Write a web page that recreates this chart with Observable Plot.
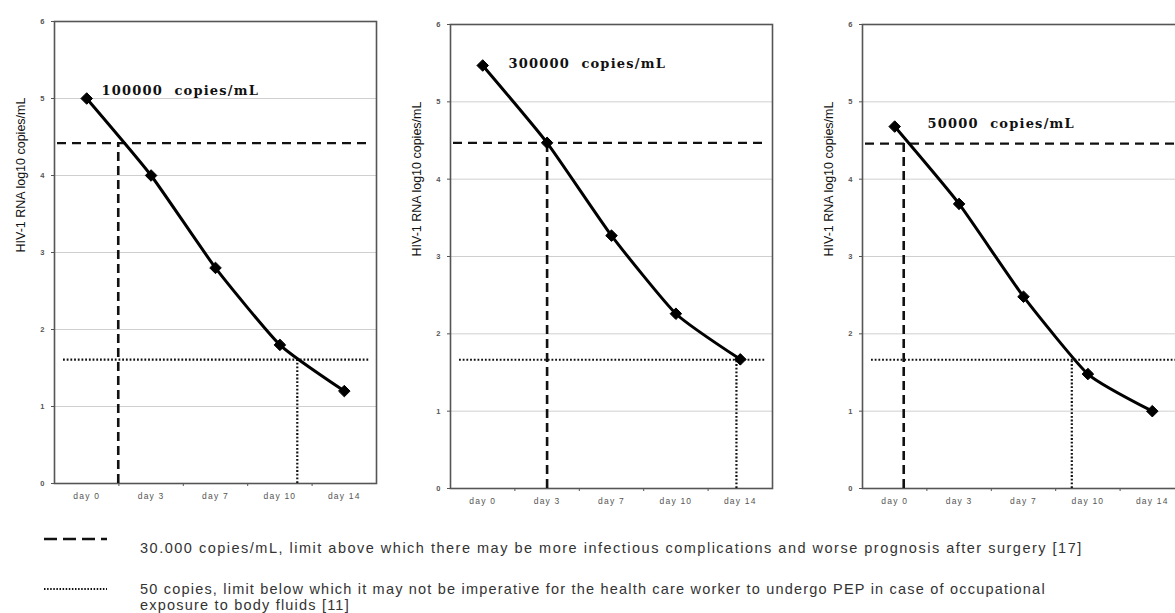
<!DOCTYPE html>
<html>
<head>
<meta charset="utf-8">
<script src="https://cdn.jsdelivr.net/npm/d3@7"></script>
<script src="https://cdn.jsdelivr.net/npm/@observablehq/plot@0.6"></script>
<style>
  html, body { margin: 0; padding: 0; background: #fff; }
  #wrap { position: relative; width: 1175px; height: 613px; overflow: hidden; background: #fff; }
  .panel { position: absolute; top: 0; }
  .leg { position: absolute; font-family: "Liberation Sans", Arial, sans-serif; font-size: 14.5px; line-height: 16px; color: #333; letter-spacing: 1.5px; white-space: nowrap; }
</style>
</head>
<body>
<div id="wrap"></div>
<script>
// ---- data ----
const days = ["day 0", "day 3", "day 7", "day 10", "day 14"];
const yTicks = [0, 1, 2, 3, 4, 5, 6];
const gridY = [1, 2, 3, 4, 5];
const load1 = [5.0, 4.0, 2.8, 1.8, 1.2];
const load2 = [5.47, 4.47, 3.27, 2.26, 1.67];
const load3 = [4.68, 3.68, 2.48, 1.48, 1.0];
const panelLabels = ["100000  copies/mL", "300000  copies/mL", "50000  copies/mL"];
const labelX = [0.23, 0.40, 0.51];        // in day-index units
const labelY = [5.1, 5.49, 4.72];
const dashedY = [4.42, 4.47, 4.46];       // 30.000 copies/mL threshold
const dottedY = [1.61, 1.665, 1.665];     // 50 copies threshold
const dashedX = [0.49, 1.0, 0.14];        // crossing (day-index units)
const dottedX = [3.27, 3.94, 2.75];
const yTitle = "HIV-1 RNA log10 copies/mL";
const legendDashed = "30.000 copies/mL, limit above which there may be more infectious complications and worse prognosis after surgery [17]";
const legendDotted1 = "50 copies, limit below which it may not be imperative for the health care worker to undergo PEP in case of occupational";
const legendDotted2 = "exposure to body fluids [11]";

const loads = [load1, load2, load3];
const layout = [
  {left: 0,   width: 390, marginLeft: 54, marginRight: 14, marginTop: 21, marginBottom: 37},
  {left: 390, width: 390, marginLeft: 60, marginRight: 8,  marginTop: 24, marginBottom: 32},
  {left: 780, width: 420, marginLeft: 82, marginRight: 16, marginTop: 24, marginBottom: 32}
];

const wrap = document.getElementById("wrap");

loads.forEach((vals, i) => {
  const L = layout[i];
  const pts = vals.map((v, j) => ({x: j, y: v}));
  const chart = Plot.plot({
    width: L.width,
    height: 520,
    marginLeft: L.marginLeft,
    marginRight: L.marginRight,
    marginTop: L.marginTop,
    marginBottom: L.marginBottom,
    x: {domain: [-0.5, 4.5]},
    y: {domain: [0, 6]},
    style: {fontFamily: "Liberation Sans, Arial, sans-serif", background: "transparent", overflow: "visible"},
    marks: [
      Plot.ruleY(gridY, {stroke: "#cfcfcf", strokeWidth: 1}),
      Plot.axisY({ticks: yTicks, tickSize: 3, tickPadding: 7, tickFormat: (d) => String(d), fontSize: 7.5, fontWeight: "bold", color: "#555", label: null}),
      Plot.axisX({ticks: [0.5, 1.5, 2.5, 3.5], tickSize: 3, tickFormat: () => "", color: "#555", label: null}),
      Plot.axisX({ticks: [0, 1, 2, 3, 4], tickSize: 0, tickPadding: 9, tickFormat: (d) => days[Math.round(d)], fontSize: 8.5, color: "#555", label: null}),
      Plot.frame({stroke: "#555", strokeWidth: 1.6}),
      Plot.text([yTitle], {frameAnchor: "left", rotate: -90, dx: -34, fontSize: 12.5, fill: "#111"}),
      Plot.ruleY([{y: dashedY[i]}], {y: "y", stroke: "#111", strokeWidth: 2.2, strokeDasharray: "9,6", insetLeft: 3, insetRight: 4}),
      Plot.ruleY([{y: dottedY[i]}], {y: "y", stroke: "#111", strokeWidth: 2.2, strokeDasharray: "1.8,1.9", insetLeft: 9, insetRight: 6}),
      Plot.ruleX([{x: dashedX[i], y1: 0, y2: dashedY[i]}], {x: "x", y1: "y1", y2: "y2", stroke: "#111", strokeWidth: 2.6, strokeDasharray: "9,5"}),
      Plot.ruleX([{x: dottedX[i], y1: 0, y2: dottedY[i]}], {x: "x", y1: "y1", y2: "y2", stroke: "#111", strokeWidth: 2.2, strokeDasharray: "1.8,1.9"}),
      Plot.line(pts, {x: "x", y: "y", stroke: "#000", strokeWidth: 3, curve: "cardinal", tension: 0.5}),
      Plot.dot(pts, {x: "x", y: "y", symbol: "diamond2", r: 5.2, fill: "#000", stroke: "#000", strokeWidth: 1}),
      Plot.text([{x: labelX[i], y: labelY[i], t: panelLabels[i]}], {x: "x", y: "y", text: "t", textAnchor: "start", fontSize: 13, fontWeight: "bold", fontFamily: "DejaVu Serif", fill: "#111"})
    ]
  });
  chart.classList.add("panel");
  chart.style.left = L.left + "px";
  d3.select(chart).selectAll("text").filter(function () { return this.textContent.includes("copies/mL") && !this.textContent.includes("HIV"); })
    .attr("letter-spacing", "1.2px").style("white-space", "pre");
  d3.select(chart).selectAll("text").filter(function () { return this.textContent.startsWith("day"); })
    .attr("letter-spacing", "1.2px").style("white-space", "pre");
  wrap.appendChild(chart);
});

// legend
function addSvgSample(x, y, w, dash, sw) {
  const s = d3.create("svg").attr("width", w).attr("height", 6)
    .style("position", "absolute").style("left", x + "px").style("top", (y - 3) + "px");
  s.append("line").attr("x1", 0).attr("x2", w).attr("y1", 3).attr("y2", 3)
    .attr("stroke", "#111").attr("stroke-width", sw).attr("stroke-dasharray", dash);
  wrap.appendChild(s.node());
}
addSvgSample(44, 539, 63, "13,6", 2.4);
addSvgSample(44, 589, 63, "1.5,1.6", 1.8);

function addText(x, y, t, ls) {
  const d = document.createElement("div");
  d.className = "leg";
  d.style.left = x + "px";
  d.style.top = y + "px";
  if (ls) d.style.letterSpacing = ls;
  d.textContent = t;
  wrap.appendChild(d);
}
addText(140, 540, legendDashed);
addText(140, 581, legendDotted1, "1.2px");
addText(140, 597, legendDotted2, "1.2px");
</script>
</body>
</html>
